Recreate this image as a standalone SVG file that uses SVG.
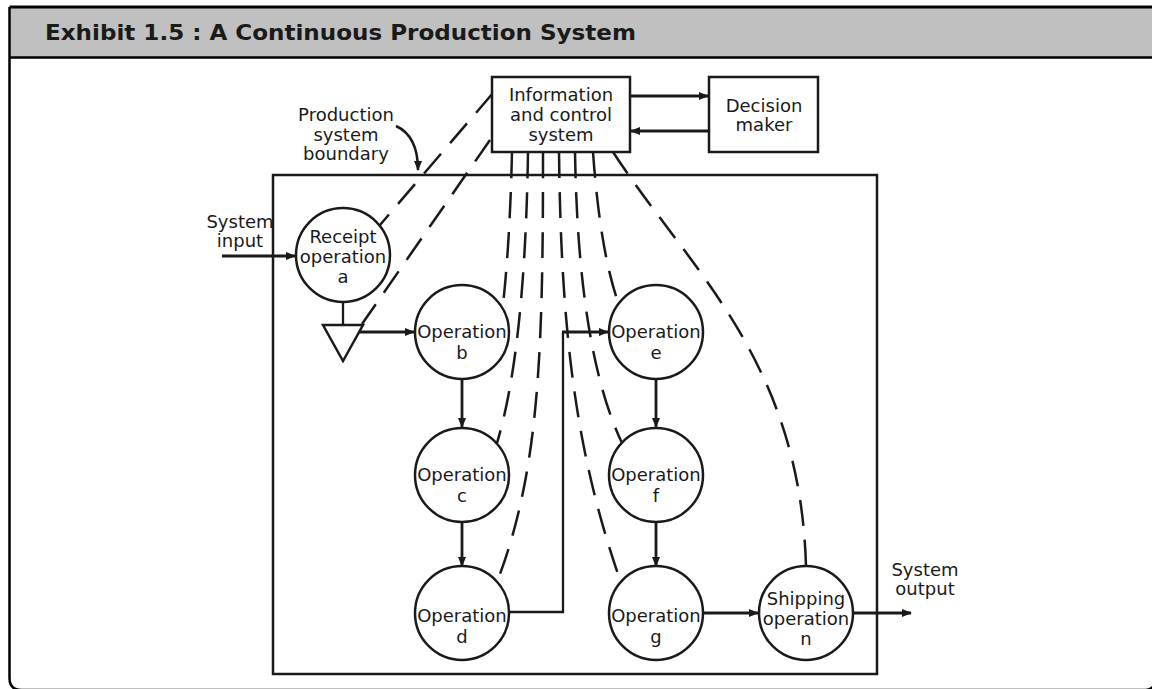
<svg xmlns="http://www.w3.org/2000/svg" width="1152" height="689" viewBox="0 0 1152 689">
<defs>
<marker id="ah" markerWidth="10" markerHeight="8" refX="9" refY="4" orient="auto" markerUnits="userSpaceOnUse"><path d="M0,0 L10,4 L0,8 z" fill="#1a1a1a"/></marker>
<style>
.t{font-family:"DejaVu Sans","Noto Sans",sans-serif;font-size:18px;fill:#1a1a1a;text-anchor:middle}
.c{fill:#fff;stroke:#1a1a1a;stroke-width:2.5}
.b{fill:#fff;stroke:#1a1a1a;stroke-width:2.5}
.a{fill:none;stroke:#1a1a1a;stroke-width:2.8;marker-end:url(#ah)}
.l{fill:none;stroke:#1a1a1a;stroke-width:2.3}
.d{fill:none;stroke:#1a1a1a;stroke-width:2.5;stroke-dasharray:26 14}
</style>
</defs>
<rect x="0" y="0" width="1152" height="689" fill="#fff"/>
<g id="frame">
<rect x="9.5" y="7" width="1145" height="50.5" fill="#c0c0c0"/>
<path d="M9.5,7 H1152" stroke="#000" stroke-width="3" fill="none"/>
<path d="M9.5,57.5 H1152" stroke="#000" stroke-width="2.5" fill="none"/>
<path d="M9.5,7 V678 Q9.5,690 21.5,690 H1143 Q1156,690 1156,678 V7" stroke="#000" stroke-width="2.5" fill="none"/>
<text x="45" y="40" font-family="'DejaVu Sans','Noto Sans',sans-serif" font-weight="bold" font-size="21" textLength="591" lengthAdjust="spacingAndGlyphs" fill="#1a1a1a">Exhibit 1.5 : A Continuous Production System</text>
</g>
<g id="boundary">
<rect x="273" y="175" width="604" height="499" fill="none" stroke="#1a1a1a" stroke-width="2.5"/>
</g>
<g id="connectors">
<path class="d" d="M493,93 L380,225"/>
<path class="d" d="M490,140 L362,324"/>
<path class="d" d="M512,152 Q510,240 503,305"/>
<path class="d" d="M528,152 Q525,350 497,443"/>
<path class="d" d="M543,152 C543,350 540,470 497,582"/>
<path class="d" d="M559,152 C561,330 575,450 620,580"/>
<path class="d" d="M575,152 C577,280 592,380 622,443"/>
<path class="d" d="M593,152 Q600,250 618,302"/>
<path class="d" d="M613,152 C690,270 800,360 806,566"/>
<path class="a" d="M222,256 H295"/>
<path class="l" d="M343,302 V325"/>
<path class="a" d="M358,332 H414"/>
<path class="a" d="M462,379 V427"/>
<path class="a" d="M462,522 V566"/>
<path class="l" d="M509,612 H563 V332"/>
<path class="a" d="M562,332 H608"/>
<path class="a" d="M656,380 V427"/>
<path class="a" d="M656,522 V566"/>
<path class="a" d="M703,613 H758"/>
<path class="a" d="M853,613 H911"/>
<path class="a" d="M630,96 H708"/>
<path class="a" d="M709,131 H631"/>
<path class="a" d="M396,126 Q418,136 418,170" style="stroke-width:2.5"/>
</g>
<g id="info">
<rect class="b" x="492" y="77" width="138" height="75"/>
<text class="t" x="561" y="101">Information</text>
<text class="t" x="561" y="121">and control</text>
<text class="t" x="561" y="141">system</text>
</g>
<g id="decision">
<rect class="b" x="709" y="77" width="109" height="75"/>
<text class="t" x="764" y="112">Decision</text>
<text class="t" x="764" y="131">maker</text>
</g>
<g id="label-boundary">
<text class="t" x="346" y="121">Production</text>
<text class="t" x="346" y="141">system</text>
<text class="t" x="346" y="160">boundary</text>
</g>
<g id="label-input">
<text class="t" x="240" y="228">System</text>
<text class="t" x="240" y="247">input</text>
</g>
<g id="label-output">
<text class="t" x="925" y="576">System</text>
<text class="t" x="925" y="595">output</text>
</g>
<g id="op-a">
<circle class="c" cx="343" cy="255" r="47"/>
<text class="t" x="343" y="243">Receipt</text>
<text class="t" x="343" y="263">operation</text>
<text class="t" x="343" y="283">a</text>
</g>
<g id="storage">
<polygon points="323,325 363,325 343,361" fill="#fff" stroke="#1a1a1a" stroke-width="2.5" stroke-linejoin="miter"/>
</g>
<g id="op-b">
<circle class="c" cx="462" cy="332" r="47"/>
<text class="t" x="462" y="338">Operation</text>
<text class="t" x="462" y="359">b</text>
</g>
<g id="op-c">
<circle class="c" cx="462" cy="475" r="47"/>
<text class="t" x="462" y="481">Operation</text>
<text class="t" x="462" y="502">c</text>
</g>
<g id="op-d">
<circle class="c" cx="462" cy="613" r="47"/>
<text class="t" x="462" y="622">Operation</text>
<text class="t" x="462" y="643">d</text>
</g>
<g id="op-e">
<circle class="c" cx="656" cy="332" r="47"/>
<text class="t" x="656" y="338">Operation</text>
<text class="t" x="656" y="359">e</text>
</g>
<g id="op-f">
<circle class="c" cx="656" cy="475" r="47"/>
<text class="t" x="656" y="481">Operation</text>
<text class="t" x="656" y="502">f</text>
</g>
<g id="op-g">
<circle class="c" cx="656" cy="613" r="47"/>
<text class="t" x="656" y="622">Operation</text>
<text class="t" x="656" y="643">g</text>
</g>
<g id="op-n">
<circle class="c" cx="806" cy="613" r="47"/>
<text class="t" x="806" y="605">Shipping</text>
<text class="t" x="806" y="625">operation</text>
<text class="t" x="806" y="645">n</text>
</g>
</svg>
